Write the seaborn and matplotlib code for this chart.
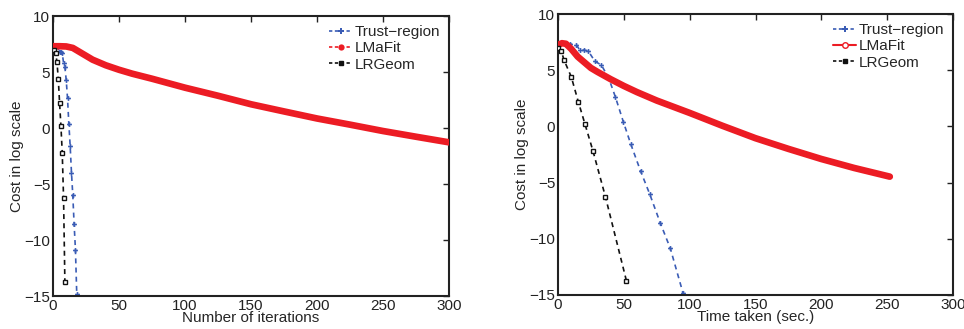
import numpy as np
import pandas as pd
import matplotlib
matplotlib.use("Agg")
import matplotlib.pyplot as plt
from matplotlib.lines import Line2D
import seaborn as sns

# ---------------- data ----------------
tr_iter = list(range(0, 19))
tr_time = [0, 2.5, 5, 9, 14, 16.5, 19.5, 23, 28, 33, 38.5, 43.5, 49.7, 55.3, 62.8, 69.6, 77.7, 85.3, 95]
tr_cost = [7.4, 7.4, 7.35, 7.33, 7.25, 6.8, 6.8, 6.7, 5.8, 5.45, 4.3, 2.65, 0.38, -1.58, -4.0, -6.0, -8.6, -10.85, -14.85]

lr_iter = list(range(1, 10))
lr_time = [0, 2.5, 4.6, 10.1, 15.4, 20.5, 26.6, 36, 52]
lr_cost = [7.0, 6.7, 5.9, 4.4, 2.2, 0.2, -2.2, -6.25, -13.75]

lm_iter = [0, 5, 10, 15, 20, 25, 30, 40, 50, 60, 75, 100, 125, 150, 175, 200, 225, 250, 275, 300]
lm_cost_iter = [7.3, 7.3, 7.28, 7.15, 6.8, 6.45, 6.1, 5.6, 5.2, 4.85, 4.4, 3.6, 2.88, 2.12, 1.48, 0.85, 0.3, -0.27, -0.78, -1.28]

lm_time = [0, 3, 6, 10, 15, 20, 25, 30, 40, 50, 60, 75, 100, 125, 150, 175, 200, 225, 252]
lm_cost_time = [7.25, 7.4, 7.35, 6.9, 6.2, 5.7, 5.2, 4.85, 4.2, 3.6, 3.05, 2.3, 1.2, 0.05, -1.05, -2.0, -2.9, -3.7, -4.47]

x_ticks = [0, 50, 100, 150, 200, 250, 300]
y_ticks = [-15, -10, -5, 0, 5, 10]
series_names = ["Trust\u2212region", "LMaFit", "LRGeom"]

# ---------------- style ----------------
sns.set_style("white")
plt.rcParams["font.family"] = ["Liberation Sans", "DejaVu Sans"]
plt.rcParams["axes.unicode_minus"] = True

BLUE = "#3a5cb5"
RED = "#ec1c24"
BLACK = "#111111"

fig = plt.figure(figsize=(9.64, 3.29), dpi=100)
ax1 = fig.add_axes([53 / 964, 1 - 296 / 329, 396 / 964, 280 / 329])
ax2 = fig.add_axes([558 / 964, 1 - 295 / 329, 395 / 964, 281 / 329])


def draw(ax, tr_x, lr_x, lm_x, lm_y, lm_legend):
    sns.lineplot(x=lm_x, y=lm_y, ax=ax, color=RED, lw=4.8, sort=False,
                 legend=False, solid_capstyle="round", zorder=3)
    sns.lineplot(x=tr_x, y=tr_cost, ax=ax, color=BLUE, lw=1.2, sort=False,
                 legend=False, linestyle=(0, (3, 2.5)), marker="P",
                 markersize=3.5, markeredgewidth=0, zorder=2)
    sns.lineplot(x=lr_x, y=lr_cost, ax=ax, color=BLACK, lw=1.2, sort=False,
                 legend=False, linestyle=(0, (3, 2.5)), marker="s",
                 markersize=3.5, markerfacecolor="white",
                 markeredgecolor=BLACK, markeredgewidth=1.0, zorder=4)
    ax.set_xlim(0, 300)
    ax.set_ylim(-15, 10)
    ax.set_xticks(x_ticks)
    ax.set_yticks(y_ticks)
    ax.set_xticklabels([str(v) for v in x_ticks])
    ax.set_yticklabels([str(v).replace("-", "\u2212") for v in y_ticks])
    ax.tick_params(direction="in", top=True, right=True, length=4,
                   width=1.0, labelsize=11, pad=2, colors="#222222")
    for s in ax.spines.values():
        s.set_linewidth(1.5)
        s.set_color("#222222")
    ax.set_ylabel("Cost in log scale", fontsize=11, labelpad=0)
    handles = [
        Line2D([], [], color=BLUE, linestyle=(0, (2, 1.5)), lw=1.2,
               marker="P", markersize=4, markeredgewidth=0),
        lm_legend,
        Line2D([], [], color=BLACK, linestyle=(0, (2, 1.5)), lw=1.2,
               marker="s", markersize=3.5, markerfacecolor=BLACK),
    ]
    ax.legend(handles, series_names, loc="upper right", frameon=False,
              fontsize=11, handlelength=1.5, handletextpad=0.15,
              labelspacing=0.15, borderaxespad=0.2)


lm_leg_left = Line2D([], [], color=RED, linestyle=(0, (2, 1.5)), lw=1.2,
                     marker="o", markersize=4.5, markerfacecolor=RED,
                     markeredgewidth=0)
lm_leg_right = Line2D([], [], color=RED, linestyle="-", lw=1.5,
                      marker="o", markersize=4, markerfacecolor="white",
                      markeredgecolor=RED, markeredgewidth=1.0)

draw(ax1, tr_iter, lr_iter, lm_iter, lm_cost_iter, lm_leg_left)
draw(ax2, tr_time, lr_time, lm_time, lm_cost_time, lm_leg_right)

ax1.set_xlabel("Number of iterations", fontsize=11, labelpad=-1)
ax2.set_xlabel("Time taken (sec.)", fontsize=11, labelpad=-1)

fig.savefig("out.png", dpi=100)
